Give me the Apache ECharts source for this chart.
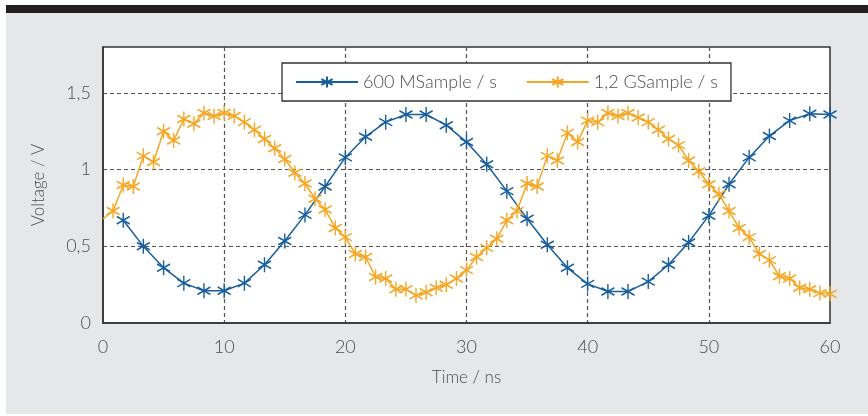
<!DOCTYPE html>
<html>
<head>
<meta charset="utf-8">
<script src="https://cdn.jsdelivr.net/npm/echarts@6/dist/echarts.min.js"></script>
<style>
  html, body { margin: 0; padding: 0; background: #fff; }
  #chart { width: 868px; height: 416px; }
</style>
</head>
<body>
<div id="chart"></div>
<script>
// 600 MSample/s capture (time in ns, voltage in V)
const slowTime = [1.67, 3.33, 5, 6.67, 8.33, 10, 11.67, 13.33, 15, 16.67, 18.33, 20,
  21.67, 23.33, 25, 26.67, 28.33, 30, 31.67, 33.33, 35, 36.67, 38.33, 40,
  41.67, 43.33, 45, 46.67, 48.33, 50, 51.67, 53.33, 55, 56.67, 58.33, 60];
const slowVolt = [0.67, 0.50, 0.36, 0.26, 0.21, 0.21, 0.26, 0.38, 0.535, 0.705, 0.89, 1.08,
  1.215, 1.31, 1.36, 1.36, 1.29, 1.18, 1.035, 0.86, 0.68, 0.51, 0.36, 0.255,
  0.205, 0.205, 0.27, 0.38, 0.525, 0.70, 0.905, 1.08, 1.22, 1.32, 1.365, 1.36];

// 1,2 GSample/s capture
const fastTime = [0, 0.83, 1.67, 2.5, 3.33, 4.17, 5, 5.83, 6.67, 7.5, 8.33, 9.17,
  10, 10.83, 11.67, 12.5, 13.33, 14.17, 15, 15.83, 16.67, 17.5, 18.33, 19.17,
  20, 20.83, 21.67, 22.5, 23.33, 24.17, 25, 25.83, 26.67, 27.5, 28.33, 29.17,
  30, 30.83, 31.67, 32.5, 33.33, 34.17, 35, 35.83, 36.67, 37.5, 38.33, 39.17,
  40, 40.83, 41.67, 42.5, 43.33, 44.17, 45, 45.83, 46.67, 47.5, 48.33, 49.17,
  50, 50.83, 51.67, 52.5, 53.33, 54.17, 55, 55.83, 56.67, 57.5, 58.33, 59.17, 60];
const fastVolt = [0.68, 0.73, 0.90, 0.89, 1.09, 1.05, 1.25, 1.19, 1.33, 1.30, 1.37, 1.35,
  1.37, 1.35, 1.31, 1.26, 1.20, 1.14, 1.07, 0.98, 0.91, 0.81, 0.74, 0.62,
  0.56, 0.45, 0.43, 0.30, 0.29, 0.22, 0.22, 0.18, 0.20, 0.23, 0.25, 0.29,
  0.345, 0.43, 0.49, 0.55, 0.67, 0.73, 0.91, 0.89, 1.09, 1.06, 1.24, 1.18,
  1.32, 1.31, 1.37, 1.35, 1.37, 1.34, 1.31, 1.26, 1.20, 1.16, 1.06, 0.99,
  0.905, 0.84, 0.73, 0.62, 0.56, 0.45, 0.41, 0.305, 0.29, 0.23, 0.22, 0.195, 0.19];

const seriesNames = ["600 MSample / s", "1,2 GSample / s"];
const seriesColors = ["#175e9c", "#f6a623"];

const FONT = "Lato, 'Open Sans', sans-serif";
const TEXT = "#4d4d4d";
const STAR = "path://M6,0L6,14M0,3.5L12,10.5M0,10.5L12,3.5";

const zip = (xs, ys) => xs.map((x, i) => [x, ys[i]]);
const comma = v => String(v).replace(".", ",");

function makeSeries(name, color, data) {
    return {
        name: name,
        type: "line",
        data: data,
        symbol: STAR,
        // the sample sitting on t = 0 is clipped by the frame in the original
        symbolSize: val => (val[0] === 0 ? 0 : [13, 15]),
        showAllSymbol: true,
        lineStyle: { color: color, width: 1.5 },
        itemStyle: { color: color, borderColor: color, borderWidth: 1.5 },
        emphasis: { disabled: true },
        animation: false,
        clip: true,
    };
}

const chart = echarts.init(document.getElementById("chart"), null, { renderer: "canvas" });

chart.setOption({
    backgroundColor: "#fff",
    textStyle: { fontFamily: FONT },
    graphic: [
        // grey panel and dark header strip
        { type: "rect", z: -10, silent: true, shape: { x: 6, y: 12, width: 862, height: 402 }, style: { fill: "#e6e7e9" } },
        { type: "rect", z: -10, silent: true, shape: { x: 6, y: 5, width: 862, height: 8 }, style: { fill: "#231f20" } },
    ],
    grid: {
        left: 103, right: 38, top: 47, bottom: 93,
        show: true,
        backgroundColor: "#fff",
        borderColor: "#333",
        borderWidth: 1.5,
    },
    legend: {
        left: 282, top: 63,
        padding: [10, 13, 10, 13],
        itemGap: 29,
        itemWidth: 62,
        itemHeight: 14,
        backgroundColor: "#fff",
        borderColor: "#333",
        borderWidth: 1.3,
        borderRadius: 0,
        textStyle: { fontFamily: FONT, fontSize: 18, fontWeight: 300, color: TEXT },
        data: seriesNames,
    },
    xAxis: {
        type: "value",
        min: 0, max: 60, interval: 10,
        name: "Time / ns",
        nameLocation: "middle",
        nameGap: 46,
        nameTextStyle: { fontFamily: FONT, fontSize: 17, fontWeight: 300, color: TEXT },
        axisLine: { show: true, lineStyle: { color: "#333", width: 1.5 } },
        axisTick: { show: false },
        axisLabel: { margin: 15, fontFamily: FONT, fontSize: 18, fontWeight: 300, color: TEXT },
        splitLine: { show: true, showMinLine: false, showMaxLine: false,
            lineStyle: { color: "#555", type: [4, 3], width: 1.2 } },
    },
    yAxis: {
        type: "value",
        min: 0, max: 1.8, interval: 0.5,
        name: "Voltage / V",
        nameLocation: "middle",
        nameGap: 56,
        nameTextStyle: { fontFamily: FONT, fontSize: 17, fontWeight: 300, color: TEXT },
        axisLine: { show: true, lineStyle: { color: "#333", width: 1.5 } },
        axisTick: { show: false },
        axisLabel: {
            margin: 12, fontFamily: FONT, fontSize: 18, fontWeight: 300, color: TEXT,
            formatter: v => (Math.abs(v / 0.5 - Math.round(v / 0.5)) < 1e-6 ? comma(v) : ""),
        },
        splitLine: { show: true, showMinLine: false, showMaxLine: false,
            lineStyle: { color: "#555", type: [4, 3], width: 1.2 } },
    },
    series: [
        makeSeries(seriesNames[0], seriesColors[0], zip(slowTime, slowVolt)),
        makeSeries(seriesNames[1], seriesColors[1], zip(fastTime, fastVolt)),
    ],
});
</script>
</body>
</html>
